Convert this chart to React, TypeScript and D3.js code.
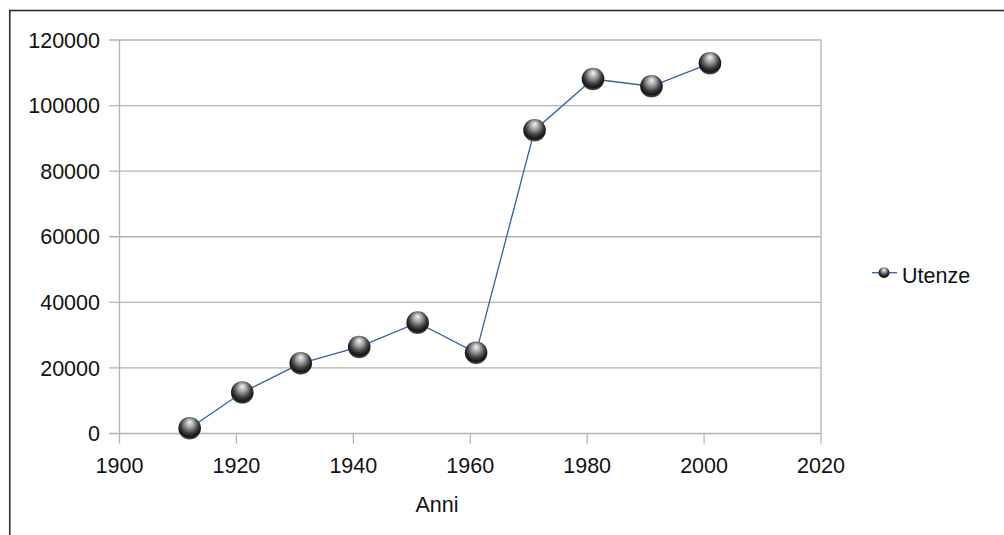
import React, { useEffect, useRef } from 'react';
import * as d3 from 'd3';

// census years and number of "utenze"
const years = [1912, 1921, 1931, 1941, 1951, 1961, 1971, 1981, 1991, 2001];
const utenze = [1600, 12500, 21400, 26400, 33800, 24600, 92500, 108100, 105900, 112900];
const xTicks = [1900, 1920, 1940, 1960, 1980, 2000, 2020];
const yTicks = [0, 20000, 40000, 60000, 80000, 100000, 120000];
const seriesName = 'Utenze';
const xTitle = 'Anni';

const App = () => {
  const svgRef = useRef<SVGSVGElement>(null);

  useEffect(() => {
    const width = 1004;
    const height = 535;
    const font = '"Liberation Sans", Arial, sans-serif';
    const fontSize = '21.5px';
    const gridColor = '#b3b3b3';
    const lineColor = '#2e62a3';

    const svg = d3.select(svgRef.current);
    svg.selectAll('*').remove();
    svg.attr('width', width).attr('height', height);

    const defs = svg.append('defs');
    const grad = defs
      .append('radialGradient')
      .attr('id', 'ball')
      .attr('cx', '50%')
      .attr('cy', '40%')
      .attr('r', '60%')
      .attr('fx', '50%')
      .attr('fy', '22%');
    grad.append('stop').attr('offset', '0%').attr('stop-color', '#f4f4f4');
    grad.append('stop').attr('offset', '30%').attr('stop-color', '#a8a8a8');
    grad.append('stop').attr('offset', '65%').attr('stop-color', '#3c3c3c');
    grad.append('stop').attr('offset', '85%').attr('stop-color', '#151515');
    grad.append('stop').attr('offset', '100%').attr('stop-color', '#5a5a5a');

    // outer frame (runs off the right and bottom edges)
    svg
      .append('rect')
      .attr('x', 9.75)
      .attr('y', 10.5)
      .attr('width', 1100)
      .attr('height', 600)
      .attr('fill', 'white')
      .attr('stroke', '#2b2b2b')
      .attr('stroke-width', 1.6);

    const x = d3.scaleLinear().domain([1900, 2020]).range([119.5, 821]);
    const y = d3.scaleLinear().domain([0, 120000]).range([433.5, 40]);

    // horizontal grid lines, with ticks to the left
    svg
      .append('g')
      .selectAll('line')
      .data(yTicks)
      .join('line')
      .attr('x1', 109)
      .attr('x2', x(2020))
      .attr('y1', d => y(d))
      .attr('y2', d => y(d))
      .attr('stroke', gridColor)
      .attr('stroke-width', 1.3);

    // left and right plot borders
    svg
      .append('g')
      .selectAll('line')
      .data([1900, 2020])
      .join('line')
      .attr('x1', d => x(d))
      .attr('x2', d => x(d))
      .attr('y1', y(120000))
      .attr('y2', y(0))
      .attr('stroke', gridColor)
      .attr('stroke-width', 1.3);

    // x ticks
    svg
      .append('g')
      .selectAll('line')
      .data(xTicks)
      .join('line')
      .attr('x1', d => x(d))
      .attr('x2', d => x(d))
      .attr('y1', y(0))
      .attr('y2', y(0) + 10)
      .attr('stroke', gridColor)
      .attr('stroke-width', 1.3);

    svg
      .append('g')
      .selectAll('text')
      .data(yTicks)
      .join('text')
      .attr('x', 100)
      .attr('y', d => y(d))
      .attr('dy', '0.36em')
      .attr('text-anchor', 'end')
      .style('font-family', font)
      .style('font-size', fontSize)
      .attr('fill', '#111')
      .text(d => String(d));

    svg
      .append('g')
      .selectAll('text')
      .data(xTicks)
      .join('text')
      .attr('x', d => x(d))
      .attr('y', 473)
      .attr('text-anchor', 'middle')
      .style('font-family', font)
      .style('font-size', fontSize)
      .attr('fill', '#111')
      .text(d => String(d));

    svg
      .append('text')
      .attr('x', 437)
      .attr('y', 511.5)
      .attr('text-anchor', 'middle')
      .style('font-family', font)
      .style('font-size', fontSize)
      .attr('fill', '#111')
      .text(xTitle);

    const data = years.map((yr, i) => ({ yr, v: utenze[i] }));

    const line = d3
      .line<{ yr: number; v: number }>()
      .x(d => x(d.yr))
      .y(d => y(d.v));

    svg
      .append('path')
      .datum(data)
      .attr('d', line)
      .attr('fill', 'none')
      .attr('stroke', lineColor)
      .attr('stroke-width', 1.3);

    svg
      .append('g')
      .selectAll('circle')
      .data(data)
      .join('circle')
      .attr('cx', d => x(d.yr))
      .attr('cy', d => y(d.v))
      .attr('r', 11.3)
      .attr('fill', 'url(#ball)');

    // legend
    const lg = svg.append('g').attr('transform', 'translate(872, 272.7)');
    lg.append('line')
      .attr('x1', 0)
      .attr('x2', 25)
      .attr('stroke', lineColor)
      .attr('stroke-width', 1.3);
    lg.append('circle').attr('cx', 12).attr('cy', 0).attr('r', 5.5).attr('fill', 'url(#ball)');
    lg.append('text')
      .attr('x', 30)
      .attr('y', 10.6)
      .style('font-family', font)
      .style('font-size', fontSize)
      .attr('fill', '#111')
      .text(seriesName);
  }, []);

  return (
    <div style={{ position: 'absolute', left: 0, top: 0 }}>
      <svg ref={svgRef} style={{ display: 'block' }}></svg>
    </div>
  );
};

export default App;
